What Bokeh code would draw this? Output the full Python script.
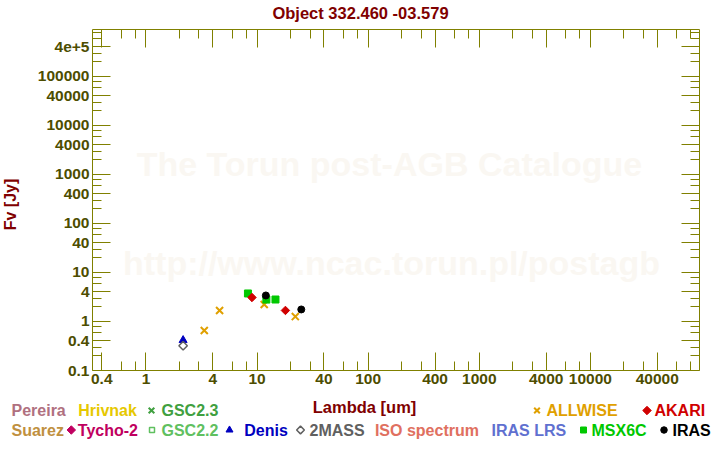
import math
from bokeh.plotting import figure
from bokeh.layouts import column, row
from bokeh.models import (Label, LogAxis, FixedTicker, CustomJSTickFormatter, Range1d,
                          ColumnDataSource)
from bokeh.core.properties import value
from bokeh.embed import file_html
from bokeh.resources import INLINE

# ---------------- texts ----------------
TITLE = "Object 332.460 -03.579"
X_LABEL = "Lambda [um]"
Y_LABEL = "Fv [Jy]"
WATERMARK_1 = "The Torun post-AGB Catalogue"
WATERMARK_2 = "http://www.ncac.torun.pl/postagb"

# ---------------- ticks ----------------
x_major = [0.4, 1, 4, 10, 40, 100, 400, 1000, 4000, 10000, 40000]
x_major_labels = ["0.4", "1", "4", "10", "40", "100", "400", "1000", "4000", "10000", "40000"]
x_minor = [0.6, 0.8, 2, 3, 6, 8, 20, 30, 60, 80, 200, 300, 600, 800,
           2000, 3000, 6000, 8000, 20000, 30000, 60000, 80000]
y_major = [0.1, 0.4, 1, 4, 10, 40, 100, 400, 1000, 4000, 10000, 40000, 100000, 400000]
y_major_labels = ["0.1", "0.4", "1", "4", "10", "40", "100", "400", "1000", "4000",
                  "10000", "40000", "100000", "4e+5"]
y_minor = [0.2, 0.3, 0.6, 0.8, 2, 3, 6, 8, 20, 30, 60, 80, 200, 300, 600, 800,
           2000, 3000, 6000, 8000, 20000, 30000, 60000, 80000,
           200000, 300000, 600000, 800000]

# ---------------- data (wavelength um, flux Jy) ----------------
denis_wl = [2.16]
denis_fl = [0.415]
twomass_wl = [2.16]
twomass_fl = [0.32]
allwise_wl = [3.35, 4.6, 11.6, 22.1]
allwise_fl = [0.655, 1.68, 2.22, 1.26]
msx_wl = [8.28, 12.13, 14.65]
msx_fl = [3.73, 2.8, 2.81]
akari_wl = [9.0, 18.0]
akari_fl = [3.09, 1.68]
iras_wl = [12.0, 25.0]
iras_fl = [3.4, 1.76]

# ---------------- legend ----------------
legend_names = ["Pereira", "Hrivnak", "GSC2.3", "ALLWISE", "AKARI",
                "Suarez", "Tycho-2", "GSC2.2", "Denis", "2MASS",
                "ISO spectrum", "IRAS LRS", "MSX6C", "IRAS"]
legend_colors = ["#b07080", "#e6c800", "#40a040", "#e0a000", "#d00000",
                 "#c09040", "#c00060", "#60c060", "#0000c0", "#606060",
                 "#e07060", "#6070d0", "#00c800", "#000000"]
legend_marks = ["GSC2.3", "ALLWISE", "AKARI", "Tycho-2", "GSC2.2", "Denis", "2MASS", "MSX6C", "IRAS"]
legend_mark_type = ["x", "x", "diamond", "diamond", "square", "triangle", "diamond", "square", "circle"]
legend_mark_filled = [True, True, True, True, False, True, False, True, True]

# ---------------- layout (canvas pixels) ----------------
W, H = 720, 450
TITLE_H = 29
LEGEND_H = 55
MAIN_H = H - TITLE_H - LEGEND_H
YLAB_W = 20
FL, FR, FB = 92, 21, 25
TXT_SHIFT = 0.36  # baseline correction (fraction of font size)
legend_text_x = [11, 77.7, 161, 546, 654, 11, 77.3, 161, 243.8, 309, 374.4, 491, 591, 672]
legend_text_row = [0, 0, 0, 0, 0, 1, 1, 1, 1, 1, 1, 1, 1, 1]
legend_mark_x = [151, 536.5, 646.5, 70.8, 151.5, 229, 300, 583, 663.5]
legend_mark_row = [0, 0, 0, 1, 1, 1, 1, 1, 1]
legend_mark_size = [8, 8, 6, 6, 5, 7, 5.5, 6, 6.5]
ROW_BASE = [416, 436]
ROW_MARK = [410, 429.5]

AXIS_COL = "#808000"
TICK_LABEL_COL = "#4d4d00"
TEXT_RED = "#800000"
WM_COL = "#faf7f2"
FONT = "Liberation Sans"


def blank_fig(w, h, xr, yr):
    f = figure(width=w, height=h, x_range=Range1d(*xr), y_range=Range1d(*yr),
               output_backend="svg", toolbar_location=None, min_border=0,
               x_axis_location=None, y_axis_location=None, outline_line_color=None,
               background_fill_color="white", border_fill_color="white",
               frame_align=False)
    f.xgrid.visible = False
    f.ygrid.visible = False
    return f


# ================= title strip =================
pt = blank_fig(W, TITLE_H, (0, W), (TITLE_H, 0))
pt.text(x=[360], y=[18 - TXT_SHIFT * 16.5], text=[TITLE], text_color=TEXT_RED,
        text_font=value(FONT), text_font_style="bold", text_font_size="16.5px",
        text_align="center", text_baseline="alphabetic")

# ================= y label strip =================
py = blank_fig(YLAB_W, MAIN_H, (0, YLAB_W), (TITLE_H + MAIN_H, TITLE_H))
py.text(x=[15.5 - TXT_SHIFT * 16], y=[204], text=[Y_LABEL], text_color=TEXT_RED,
        text_font=value(FONT), text_font_style="bold", text_font_size="16px",
        text_align="center", text_baseline="alphabetic", angle=math.pi / 2)

# ================= main plot =================
p = figure(width=W - YLAB_W, height=MAIN_H, x_axis_type="log", y_axis_type="log",
           x_range=Range1d(10 ** -0.481, 10 ** 4.982),
           y_range=Range1d(0.1, 10 ** 5.959),
           output_backend="svg", toolbar_location=None,
           min_border_left=FL - YLAB_W, min_border_right=FR, min_border_top=0,
           min_border_bottom=FB,
           background_fill_color="white", border_fill_color="white",
           outline_line_color=None, frame_align=False)
p.xgrid.visible = False
p.ygrid.visible = False

FMT_CODE = """
let best = 0, bd = Infinity;
for (let i = 0; i < tv.length; i++) {
  const d = Math.abs(Math.log(tick) - Math.log(tv[i]));
  if (d < bd) { bd = d; best = i; }
}
return tl[best];
"""
fmt_x = CustomJSTickFormatter(args=dict(tv=x_major, tl=x_major_labels), code=FMT_CODE)
fmt_y = CustomJSTickFormatter(args=dict(tv=y_major, tl=y_major_labels), code=FMT_CODE)
fmt_blank = CustomJSTickFormatter(code="return '';")

x_ticker = FixedTicker(ticks=x_major, minor_ticks=x_minor)
y_ticker = FixedTicker(ticks=y_major, minor_ticks=y_minor)


def style_axis(ax, show_labels=True, standoff=3):
    ax.axis_line_color = AXIS_COL
    ax.axis_line_width = 1
    ax.major_tick_line_color = AXIS_COL
    ax.minor_tick_line_color = AXIS_COL
    ax.major_tick_in = 18
    ax.major_tick_out = 0
    ax.minor_tick_in = 9
    ax.minor_tick_out = 0
    ax.major_label_standoff = standoff
    if show_labels:
        ax.major_label_text_font = FONT
        ax.major_label_text_font_style = "bold"
        ax.major_label_text_font_size = "15.5px"
        ax.major_label_text_color = TICK_LABEL_COL
    else:
        ax.major_label_text_font_size = "0px"


xax = p.xaxis[0]
xax.ticker = x_ticker
xax.formatter = fmt_x
style_axis(xax, True, 3)

yax = p.yaxis[0]
yax.ticker = y_ticker
yax.formatter = fmt_y
style_axis(yax, True, 3)

top_ax = LogAxis(ticker=x_ticker, formatter=fmt_blank)
style_axis(top_ax, False, 0)
p.add_layout(top_ax, "above")
right_ax = LogAxis(ticker=y_ticker, formatter=fmt_blank)
style_axis(right_ax, False, 0)
p.add_layout(right_ax, "right")

frame_bottom = TITLE_H + MAIN_H - FB  # canvas y of the frame bottom


def wm(text, X, Y):
    p.add_layout(Label(x=X - FL, y=frame_bottom - Y, x_units="screen", y_units="screen",
                       text=text, text_color=WM_COL, text_font_size="34px",
                       text_font=FONT, text_font_style="bold", text_align="center",
                       text_baseline="alphabetic", level="underlay"))


wm(WATERMARK_1, 389, 163)
wm(WATERMARK_2, 391, 262)

# data
p.scatter(denis_wl, denis_fl, marker="triangle", size=8, fill_color="#0000c0", line_color="#0000c0")
p.scatter(twomass_wl, twomass_fl, marker="square", angle=math.pi / 4, size=6,
          fill_color="white", fill_alpha=0, line_color="#606060", line_width=1.5)
p.scatter(allwise_wl, allwise_fl, marker="x", size=10, line_color="#e0a000", line_width=2)
p.scatter(msx_wl, msx_fl, marker="square", size=7, fill_color="#00c800", line_color="#00c800")
p.scatter(akari_wl, akari_fl, marker="square", angle=math.pi / 4, size=6,
          fill_color="#d00000", line_color="#d00000")
p.scatter(iras_wl, iras_fl, marker="circle", size=7, fill_color="#000000", line_color="#000000")

# ================= legend strip =================
y0 = TITLE_H + MAIN_H
pl = blank_fig(W, LEGEND_H, (0, W), (H, y0))

pl.text(x=[364], y=[412 - TXT_SHIFT * 16.5], text=[X_LABEL], text_color=TEXT_RED,
        text_font=value(FONT), text_font_style="bold", text_font_size="16.5px",
        text_align="center", text_baseline="alphabetic")

leg_src = ColumnDataSource(dict(
    x=legend_text_x,
    y=[ROW_BASE[r] - TXT_SHIFT * 16 for r in legend_text_row],
    text=legend_names,
    color=legend_colors,
))
pl.text(x="x", y="y", text="text", text_color="color", source=leg_src,
        text_font=value(FONT), text_font_style="bold", text_font_size="16px",
        text_align="left", text_baseline="alphabetic")

col_of = dict(zip(legend_names, legend_colors))
for name, mtype, filled, mx, r, ms in zip(legend_marks, legend_mark_type, legend_mark_filled,
                                          legend_mark_x, legend_mark_row, legend_mark_size):
    c = col_of[name]
    kw = dict(size=ms, line_color=c)
    if mtype == "diamond":
        kw.update(marker="square", angle=math.pi / 4)
    else:
        kw.update(marker=mtype)
    if mtype == "x":
        kw.update(line_width=2)
    elif filled:
        kw.update(fill_color=c)
    else:
        kw.update(fill_color=None, line_width=1.5)
    pl.scatter([mx], [ROW_MARK[r]], **kw)

layout = column(pt, row(py, p, spacing=0), pl, spacing=0)
open("out.html", "w").write(file_html(layout, INLINE))
